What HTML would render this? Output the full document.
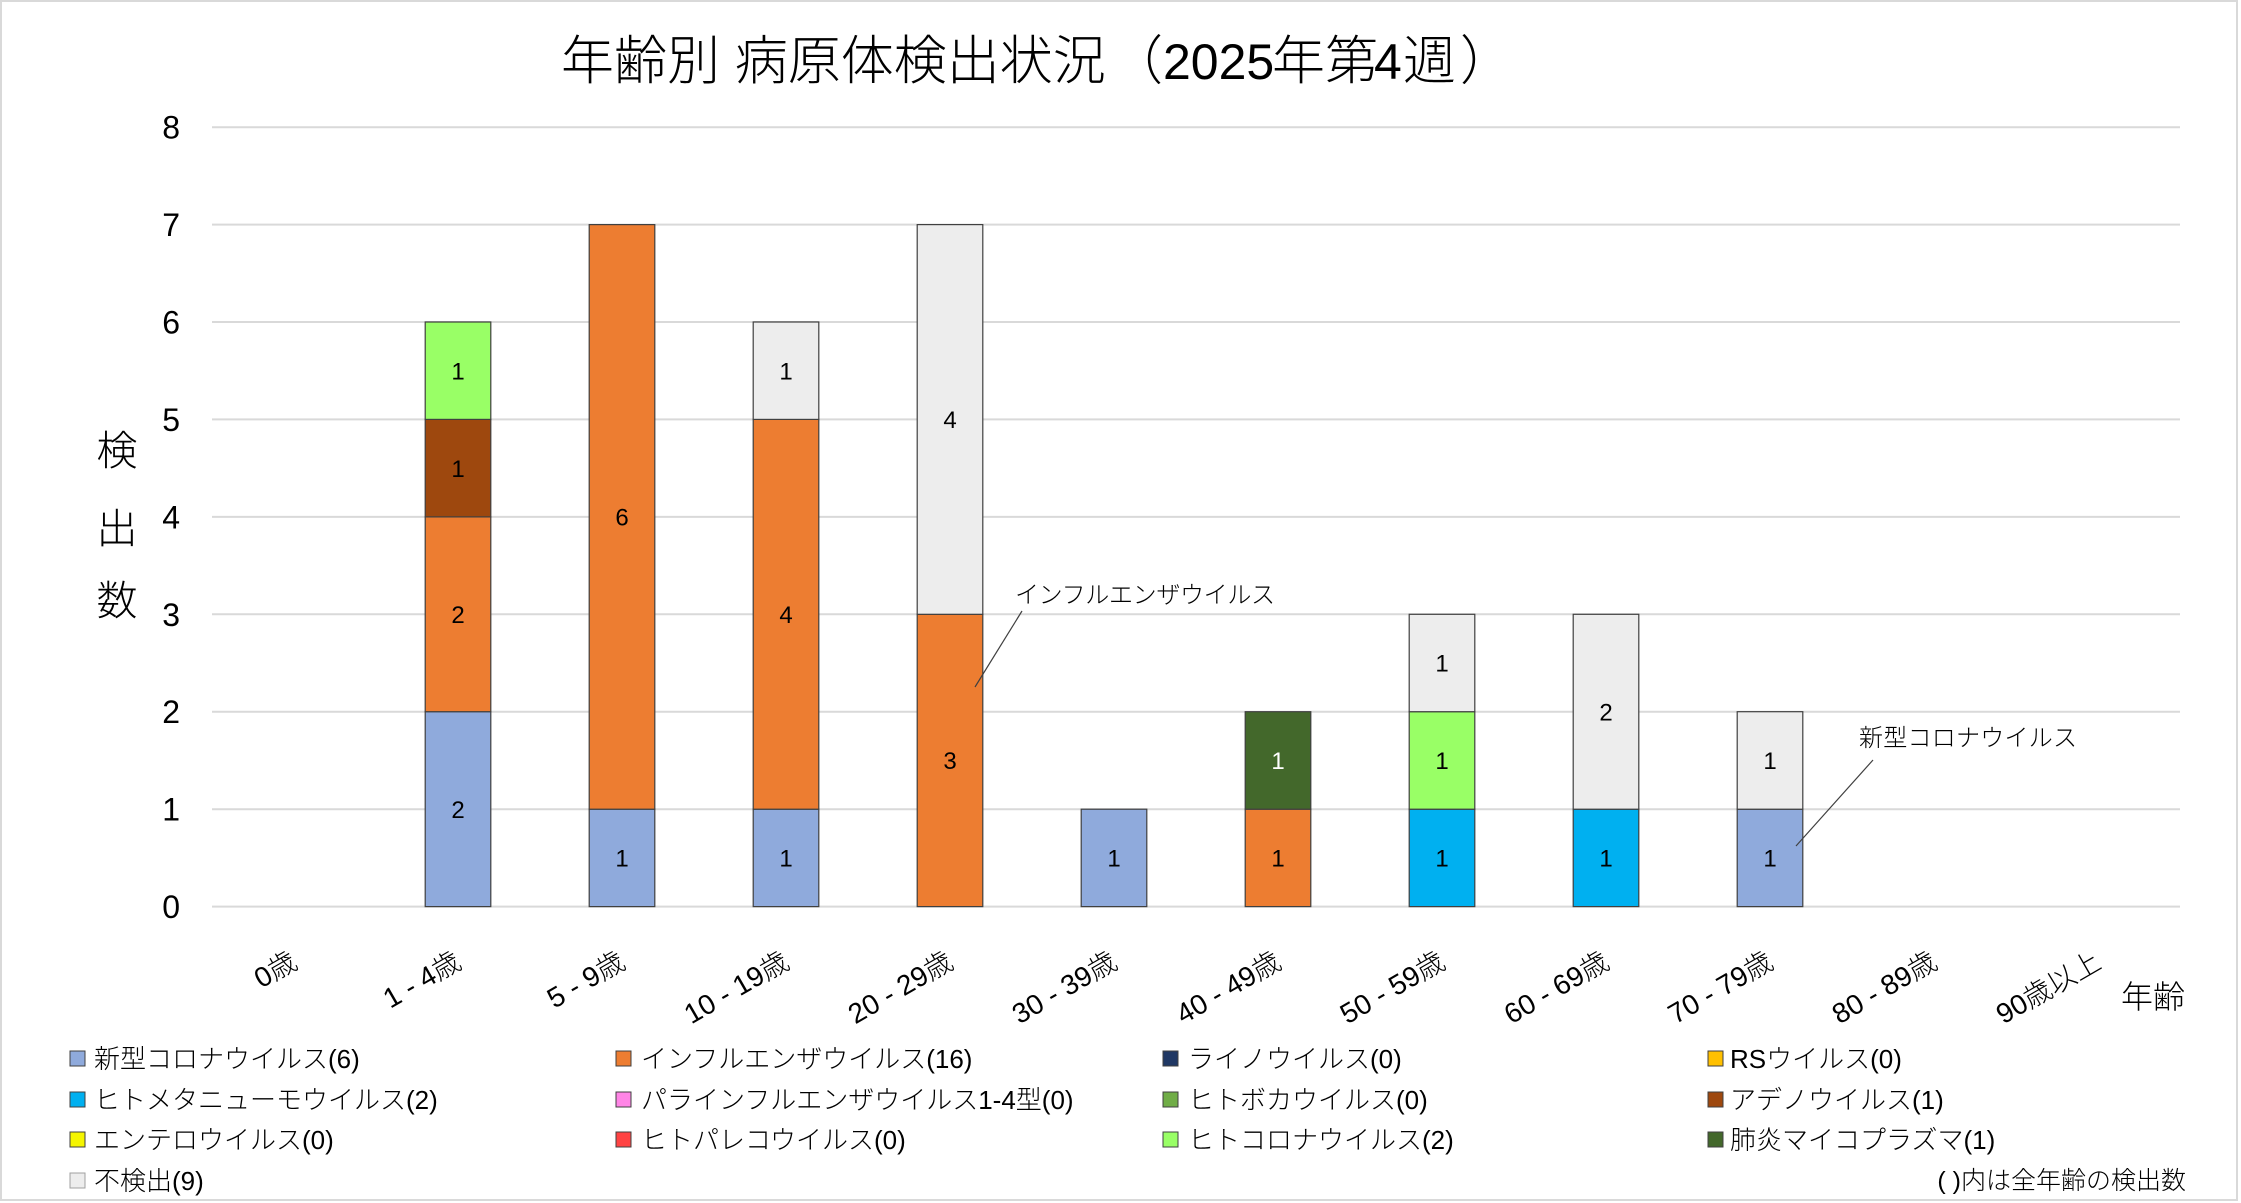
<!DOCTYPE html>
<html><head><meta charset="utf-8">
<style>
html,body{margin:0;padding:0;background:#fff;}
svg{display:block;}
text{font-family:"Liberation Sans","Noto Sans CJK JP",sans-serif;fill:#000;}
.j{font-weight:300;}
</style></head>
<body>
<svg width="2241" height="1203" viewBox="0 0 2241 1203" xmlns="http://www.w3.org/2000/svg">
<rect x="0" y="0" width="2241" height="1203" fill="#fff"/>
<rect x="1" y="1" width="2236" height="1199" fill="none" stroke="#D9D9D9" stroke-width="2"/>

<!-- title -->
<text class="j" y="79" font-size="53">
<tspan x="561">年齢別 病原体検出状況</tspan><tspan x="1110">（</tspan><tspan x="1163" font-size="50">2025</tspan><tspan x="1272">年第</tspan><tspan x="1374" font-size="50">4</tspan><tspan x="1403">週</tspan><tspan x="1460">）</tspan>
</text>

<!-- gridlines -->
<g stroke="#D9D9D9" stroke-width="2">
<line x1="212" y1="127.2" x2="2180" y2="127.2"/>
<line x1="212" y1="224.6" x2="2180" y2="224.6"/>
<line x1="212" y1="322.0" x2="2180" y2="322.0"/>
<line x1="212" y1="419.4" x2="2180" y2="419.4"/>
<line x1="212" y1="516.9" x2="2180" y2="516.9"/>
<line x1="212" y1="614.3" x2="2180" y2="614.3"/>
<line x1="212" y1="711.7" x2="2180" y2="711.7"/>
<line x1="212" y1="809.2" x2="2180" y2="809.2"/>
<line x1="212" y1="906.6" x2="2180" y2="906.6"/>
</g>

<!-- y tick labels -->
<g font-size="32" text-anchor="end">
<text x="180" y="138.7">8</text>
<text x="180" y="236.1">7</text>
<text x="180" y="333.5">6</text>
<text x="180" y="430.9">5</text>
<text x="180" y="528.4">4</text>
<text x="180" y="625.8">3</text>
<text x="180" y="723.2">2</text>
<text x="180" y="820.7">1</text>
<text x="180" y="918.1">0</text>
</g>

<!-- y axis title -->
<g class="j" font-size="41" text-anchor="middle">
<text x="117" y="465">検</text>
<text x="117" y="543">出</text>
<text x="117" y="615">数</text>
</g>

<!-- bars -->
<g stroke="#404040" stroke-width="1.2">
<rect x="425.2" y="711.7" width="65.6" height="194.9" fill="#8FAADC"/>
<rect x="425.2" y="516.9" width="65.6" height="194.8" fill="#ED7D31"/>
<rect x="425.2" y="419.4" width="65.6" height="97.5" fill="#9E480E"/>
<rect x="425.2" y="322.0" width="65.6" height="97.4" fill="#99FF66"/>
<rect x="589.2" y="809.2" width="65.6" height="97.4" fill="#8FAADC"/>
<rect x="589.2" y="224.6" width="65.6" height="584.6" fill="#ED7D31"/>
<rect x="753.2" y="809.2" width="65.6" height="97.4" fill="#8FAADC"/>
<rect x="753.2" y="419.4" width="65.6" height="389.8" fill="#ED7D31"/>
<rect x="753.2" y="322.0" width="65.6" height="97.4" fill="#EDEDED"/>
<rect x="917.2" y="614.3" width="65.6" height="292.3" fill="#ED7D31"/>
<rect x="917.2" y="224.6" width="65.6" height="389.7" fill="#EDEDED"/>
<rect x="1081.2" y="809.2" width="65.6" height="97.4" fill="#8FAADC"/>
<rect x="1245.2" y="809.2" width="65.6" height="97.4" fill="#ED7D31"/>
<rect x="1245.2" y="711.7" width="65.6" height="97.5" fill="#43682B"/>
<rect x="1409.2" y="809.2" width="65.6" height="97.4" fill="#00B0F0"/>
<rect x="1409.2" y="711.7" width="65.6" height="97.5" fill="#99FF66"/>
<rect x="1409.2" y="614.3" width="65.6" height="97.4" fill="#EDEDED"/>
<rect x="1573.2" y="809.2" width="65.6" height="97.4" fill="#00B0F0"/>
<rect x="1573.2" y="614.3" width="65.6" height="194.9" fill="#EDEDED"/>
<rect x="1737.2" y="809.2" width="65.6" height="97.4" fill="#8FAADC"/>
<rect x="1737.2" y="711.7" width="65.6" height="97.5" fill="#EDEDED"/>
</g>

<!-- data labels -->
<g font-size="24" text-anchor="middle">
<text x="458" y="817.8">2</text>
<text x="458" y="623">2</text>
<text x="458" y="476.8">1</text>
<text x="458" y="379.4">1</text>
<text x="622" y="866.5">1</text>
<text x="622" y="525.5">6</text>
<text x="786" y="866.5">1</text>
<text x="786" y="622.9">4</text>
<text x="786" y="379.4">1</text>
<text x="950" y="769.1">3</text>
<text x="950" y="428.1">4</text>
<text x="1114" y="866.5">1</text>
<text x="1278" y="866.5">1</text>
<text x="1278" y="769.1" fill="#fff" style="fill:#fff">1</text>
<text x="1442" y="866.5">1</text>
<text x="1442" y="769.1">1</text>
<text x="1442" y="671.6">1</text>
<text x="1606" y="866.5">1</text>
<text x="1606" y="720.4">2</text>
<text x="1770" y="866.5">1</text>
<text x="1770" y="769.1">1</text>
</g>

<!-- callouts -->
<g stroke="#404040" stroke-width="1.2">
<line x1="1022" y1="611" x2="975" y2="687"/>
<line x1="1873" y1="760" x2="1796" y2="846"/>
</g>
<text class="j" x="1015" y="603" font-size="24" textLength="260" lengthAdjust="spacing">インフルエンザウイルス</text>
<text class="j" x="1859" y="746" font-size="24" textLength="218" lengthAdjust="spacing">新型コロナウイルス</text>

<!-- x labels -->
<g font-size="28" text-anchor="end" class="j">
<text transform="translate(299,967) rotate(-30)">0歳</text>
<text transform="translate(463,967) rotate(-30)">1 - 4歳</text>
<text transform="translate(627,967) rotate(-30)">5 - 9歳</text>
<text transform="translate(791,967) rotate(-30)">10 - 19歳</text>
<text transform="translate(955,967) rotate(-30)">20 - 29歳</text>
<text transform="translate(1119,967) rotate(-30)">30 - 39歳</text>
<text transform="translate(1283,967) rotate(-30)">40 - 49歳</text>
<text transform="translate(1447,967) rotate(-30)">50 - 59歳</text>
<text transform="translate(1611,967) rotate(-30)">60 - 69歳</text>
<text transform="translate(1775,967) rotate(-30)">70 - 79歳</text>
<text transform="translate(1939,967) rotate(-30)">80 - 89歳</text>
<text transform="translate(2103,967) rotate(-30)">90歳以上</text>
</g>
<text class="j" x="2185" y="1008" font-size="32" text-anchor="end">年齢</text>

<!-- legend -->
<g stroke="#404040" stroke-width="1">
<rect x="70" y="1051" width="15" height="15" fill="#8FAADC"/>
<rect x="616" y="1051" width="15" height="15" fill="#ED7D31"/>
<rect x="1163" y="1051" width="15" height="15" fill="#203864"/>
<rect x="1708" y="1051" width="15" height="15" fill="#FFC000"/>
<rect x="70" y="1092" width="15" height="15" fill="#00B0F0"/>
<rect x="616" y="1092" width="15" height="15" fill="#FF85E6"/>
<rect x="1163" y="1092" width="15" height="15" fill="#70AD47"/>
<rect x="1708" y="1092" width="15" height="15" fill="#9E480E"/>
<rect x="70" y="1132" width="15" height="15" fill="#F5F500"/>
<rect x="616" y="1132" width="15" height="15" fill="#FF4343"/>
<rect x="1163" y="1132" width="15" height="15" fill="#99FF66"/>
<rect x="1708" y="1132" width="15" height="15" fill="#43682B"/>
<rect x="70" y="1173" width="15" height="15" fill="#EDEDED" stroke="#A0A0A0"/>
</g>
<g class="j" font-size="26">
<text x="94" y="1068">新型コロナウイルス(6)</text>
<text x="641" y="1068">インフルエンザウイルス(16)</text>
<text x="1188" y="1068">ライノウイルス(0)</text>
<text x="1730" y="1068">RSウイルス(0)</text>
<text x="94" y="1109">ヒトメタニューモウイルス(2)</text>
<text x="641" y="1109">パラインフルエンザウイルス1-4型(0)</text>
<text x="1188" y="1109">ヒトボカウイルス(0)</text>
<text x="1730" y="1109">アデノウイルス(1)</text>
<text x="94" y="1149">エンテロウイルス(0)</text>
<text x="641" y="1149">ヒトパレコウイルス(0)</text>
<text x="1188" y="1149">ヒトコロナウイルス(2)</text>
<text x="1730" y="1149">肺炎マイコプラズマ(1)</text>
<text x="94" y="1190">不検出(9)</text>
</g>
<text class="j" x="2186" y="1189" font-size="25" text-anchor="end">( )内は全年齢の検出数</text>
</svg>
</body></html>
